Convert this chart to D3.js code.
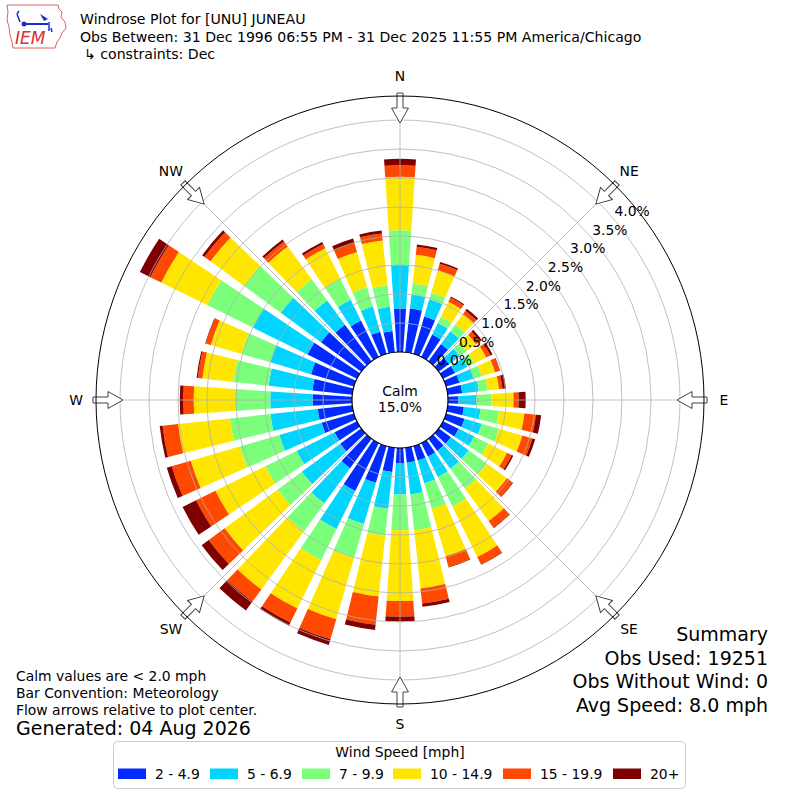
<!DOCTYPE html>
<html>
<head>
<meta charset="utf-8">
<script src="https://cdn.jsdelivr.net/npm/d3@7"></script>
<style>
  body { margin: 0; background: #fff; }
  text { font-family: "DejaVu Sans", sans-serif; fill: #000; }
</style>
</head>
<body>
<svg id="chart" width="800" height="800"></svg>
<script>
/*global d3*/

// direction bins (degrees, where the wind blows from)
var directions = [0, 10, 20, 30, 40, 50, 60, 70, 80, 90, 100, 110,
                  120, 130, 140, 150, 160, 170, 180, 190, 200, 210, 220, 230,
                  240, 250, 260, 270, 280, 290, 300, 310, 320, 330, 340, 350];

// percent of obs per speed bin
var spd2to5   = [0.75, 0.76, 0.67, 0.43, 0.37, 0.22, 0.23, 0.24, 0.25, 0.18, 0.28, 0.33,
                 0.30, 0.26, 0.26, 0.26, 0.26, 0.26, 0.26, 0.42, 0.66, 0.92, 0.63, 0.45,
                 0.43, 0.58, 0.60, 0.68, 0.69, 0.77, 0.95, 0.86, 0.78, 0.70, 0.40, 0.37];
var spd5to7   = [0.75, 0.24, 0.31, 0.22, 0.27, 0.23, 0.24, 0.25, 0.29, 0.31, 0.29, 0.31,
                 0.30, 0.38, 0.38, 0.39, 0.41, 0.55, 0.54, 0.64, 0.74, 0.73, 0.75, 0.82,
                 0.73, 0.76, 0.82, 0.73, 0.76, 0.73, 1.05, 0.86, 0.52, 0.40, 0.45, 0.42];
var spd7to10  = [0.60, 0.19, 0.12, 0.12, 0.15, 0.15, 0.13, 0.15, 0.15, 0.26, 0.32, 0.31,
                 0.27, 0.39, 0.43, 0.57, 0.46, 0.62, 0.62, 0.47, 0.61, 0.60, 0.60, 0.52,
                 0.60, 0.71, 0.70, 0.61, 0.61, 0.52, 0.88, 0.79, 0.45, 0.40, 0.35, 0.37];
var spd10to15 = [0.92, 0.50, 0.40, 0.29, 0.22, 0.20, 0.23, 0.24, 0.20, 0.38, 0.44, 0.42,
                 0.36, 0.43, 0.69, 0.97, 0.85, 1.01, 1.22, 1.05, 1.10, 0.93, 1.24, 1.13,
                 0.96, 0.88, 0.90, 0.71, 0.54, 0.55, 0.88, 0.71, 0.70, 0.59, 0.63, 0.78];
var spd15to20 = [0.20, 0.14, 0.12, 0.08, 0.07, 0.08, 0.08, 0.08, 0.06, 0.09, 0.20, 0.18,
                 0.09, 0.12, 0.14, 0.14, 0.19, 0.26, 0.27, 0.49, 0.36, 0.27, 0.26, 0.34,
                 0.37, 0.34, 0.27, 0.18, 0.08, 0.09, 0.21, 0.13, 0.11, 0.08, 0.16, 0.12];
var spd20up   = [0.11, 0.04, 0.03, 0.02, 0.04, 0.04, 0.04, 0.01, 0.06, 0.12, 0.09, 0.05,
                 0.03, 0.01, 0.01, 0.01, 0.01, 0.06, 0.08, 0.09, 0.10, 0.06, 0.19, 0.15,
                 0.26, 0.09, 0.05, 0.06, 0.02, 0.01, 0.20, 0.05, 0.04, 0.04, 0.08, 0.05];

var binLabels = ["2 - 4.9", "5 - 6.9", "7 - 9.9", "10 - 14.9", "15 - 19.9", "20+"];
var binColors = ["#002aff", "#00d4ff", "#7bff7b", "#ffe600", "#ff4800", "#7f0000"];
var ringTicks = [0, 0.5, 1, 1.5, 2, 2.5, 3, 3.5, 4];
var compass = ["N", "NE", "E", "SE", "S", "SW", "W", "NW"];
var compassDeg = [0, 45, 90, 135, 180, 225, 270, 315];

var calmPct = "15.0%";
var titleLines = ["Windrose Plot for [UNU] JUNEAU",
  "Obs Between: 31 Dec 1996 06:55 PM - 31 Dec 2025 11:55 PM America/Chicago",
  "\u21b3 constraints: Dec"];
var noteLines = ["Calm values are < 2.0 mph", "Bar Convention: Meteorology",
  "Flow arrows relative to plot center."];
var summaryLines = ["Summary", "Obs Used: 19251", "Obs Without Wind: 0", "Avg Speed: 8.0 mph"];

var svg = d3.select("#chart");
var rad = Math.PI / 180;
var outerR = 304;

// radius scale: 0% sits on the calm circle
var r = d3.scaleLinear().domain([0, 4]).range([48, 280]);

// table for the stack
var keys = ["b0", "b1", "b2", "b3", "b4", "b5"];
var series = [spd2to5, spd5to7, spd7to10, spd10to15, spd15to20, spd20up];
var rows = directions.map(function(d, i) {
  var row = {dir: d};
  keys.forEach(function(k, j) { row[k] = series[j][i]; });
  return row;
});
var stacked = d3.stack().keys(keys)(rows);

var g = svg.append("g").attr("transform", "translate(400,400)");

var halfW = 3.8;
var arc = d3.arc()
  .innerRadius(function(d) { return r(d[0]); })
  .outerRadius(function(d) { return r(d[1]); })
  .startAngle(function(d) { return (d.data.dir - halfW) * rad; })
  .endAngle(function(d) { return (d.data.dir + halfW) * rad; });

g.selectAll(".layer")
  .data(stacked)
  .enter().append("g")
    .attr("class", "layer")
    .attr("fill", function(d, i) { return binColors[i]; })
  .selectAll("path")
  .data(function(d) { return d; })
  .enter().append("path")
    .attr("d", arc);

// grid on top of the bars
g.selectAll(".ring")
  .data(ringTicks.slice(1))
  .enter().append("circle")
    .attr("r", function(d) { return r(d); })
    .attr("fill", "none")
    .attr("stroke", "#b0b0b0")
    .attr("stroke-width", 0.8);

g.selectAll(".spoke")
  .data(compassDeg)
  .enter().append("line")
    .attr("x1", function(d) { return r(0) * Math.sin(d * rad); })
    .attr("y1", function(d) { return -r(0) * Math.cos(d * rad); })
    .attr("x2", function(d) { return outerR * Math.sin(d * rad); })
    .attr("y2", function(d) { return -outerR * Math.cos(d * rad); })
    .attr("stroke", "#b0b0b0")
    .attr("stroke-width", 0.8);

// ring labels
var labAng = 50 * rad;
g.selectAll(".rlab")
  .data(ringTicks)
  .enter().append("text")
    .attr("x", function(d) { return r(d) * Math.sin(labAng); })
    .attr("y", function(d) { return -r(d) * Math.cos(labAng) - 4; })
    .attr("font-size", 13.9)
    .text(function(d) { return d.toFixed(1) + "%"; });

// calm circle
g.append("circle")
  .attr("r", r(0))
  .attr("fill", "#fff")
  .attr("stroke", "#000")
  .attr("stroke-width", 1.2);
g.append("text").attr("text-anchor", "middle").attr("y", -4).attr("font-size", 13.9).text("Calm");
g.append("text").attr("text-anchor", "middle").attr("y", 12).attr("font-size", 13.9).text(calmPct);

// flow arrows
var arrowPts = [[-3, -307], [3, -307], [3, -292], [8.5, -292], [0, -277], [-8.5, -292], [-3, -292]];
g.selectAll(".arrow")
  .data(compassDeg)
  .enter().append("polygon")
    .attr("points", arrowPts.map(function(p) { return p.join(","); }).join(" "))
    .attr("transform", function(d) { return "rotate(" + d + ")"; })
    .attr("fill", "#fff")
    .attr("stroke", "#444")
    .attr("stroke-width", 1);

g.append("circle")
  .attr("r", outerR)
  .attr("fill", "none")
  .attr("stroke", "#000")
  .attr("stroke-width", 1);

g.selectAll(".clab")
  .data(compass)
  .enter().append("text")
    .attr("x", function(d, i) { return 324 * Math.sin(compassDeg[i] * rad); })
    .attr("y", function(d, i) { return -324 * Math.cos(compassDeg[i] * rad) + 5; })
    .attr("text-anchor", "middle")
    .attr("font-size", 13.9)
    .text(function(d) { return d; });

// title
svg.selectAll(".title")
  .data(titleLines)
  .enter().append("text")
    .attr("x", function(d, i) { return i == 2 ? 84 : 80; })
    .attr("y", function(d, i) { return 24 + i * 17.5; })
    .attr("font-size", 14.1)
    .text(function(d) { return d; });

// logo
var logo = svg.append("g");
logo.append("path")
  .attr("d", "M7,5 L58,5 L59,9 L62,12 L61,17 L65,22 L66,28 L62,33 L60,38 L57,42 L55,48 L13,48 L12,42 L10,35 L9,27 L7,20 L8,12 Z")
  .attr("fill", "none").attr("stroke", "#e06060").attr("stroke-width", 1);
logo.append("line").attr("x1", 23).attr("y1", 24).attr("x2", 48).attr("y2", 24)
  .attr("stroke", "#1a2fcc").attr("stroke-width", 2);
logo.append("circle").attr("cx", 24).attr("cy", 24).attr("r", 2.5).attr("fill", "#1a2fcc");
logo.append("path").attr("d", "M20,22 L17,14 M17,14 L19,11").attr("stroke", "#1a2fcc").attr("stroke-width", 1.5).attr("fill", "none");
logo.append("path").attr("d", "M40,14 L48,19 L44,21 Z").attr("fill", "#1a2fcc");
logo.append("path").attr("d", "M49,22 L49,31 M51,28 L52,32").attr("stroke", "#1a2fcc").attr("stroke-width", 1.5);
logo.append("text").attr("x", 15).attr("y", 44)
  .attr("font-family", "'Liberation Serif', serif").attr("font-style", "italic")
  .attr("font-size", 17).style("fill", "#d63030").text("IEM");

// notes bottom left
svg.selectAll(".note")
  .data(noteLines)
  .enter().append("text")
    .attr("x", 16)
    .attr("y", function(d, i) { return 681 + i * 17; })
    .attr("font-size", 13.9)
    .text(function(d) { return d; });
svg.append("text").attr("x", 16).attr("y", 735).attr("font-size", 19).text("Generated: 04 Aug 2026");

// summary bottom right
svg.selectAll(".summ")
  .data(summaryLines)
  .enter().append("text")
    .attr("x", 768)
    .attr("y", function(d, i) { return 641 + i * 23.7; })
    .attr("text-anchor", "end")
    .attr("font-size", 19)
    .text(function(d) { return d; });

// legend (entry slots as laid out in the original)
var legSlots = [118, 210, 302, 393, 503, 613];
var leg = svg.append("g");
leg.append("rect")
  .attr("x", 113.5).attr("y", 741.5).attr("width", 572).attr("height", 47).attr("rx", 4)
  .attr("fill", "#fff").attr("stroke", "#cccccc");
leg.append("text").attr("x", 400).attr("y", 757).attr("text-anchor", "middle")
  .attr("font-size", 13.9).text("Wind Speed [mph]");
var items = leg.selectAll(".item")
  .data(binLabels)
  .enter().append("g")
    .attr("transform", function(d, i) { return "translate(" + legSlots[i] + ",0)"; });
items.append("rect")
  .attr("y", 768.5).attr("width", 28).attr("height", 10.5)
  .attr("fill", function(d, i) { return binColors[i]; });
items.append("text")
  .attr("x", 37).attr("y", 779).attr("font-size", 13.9)
  .text(function(d) { return d; });
</script>
</body>
</html>
